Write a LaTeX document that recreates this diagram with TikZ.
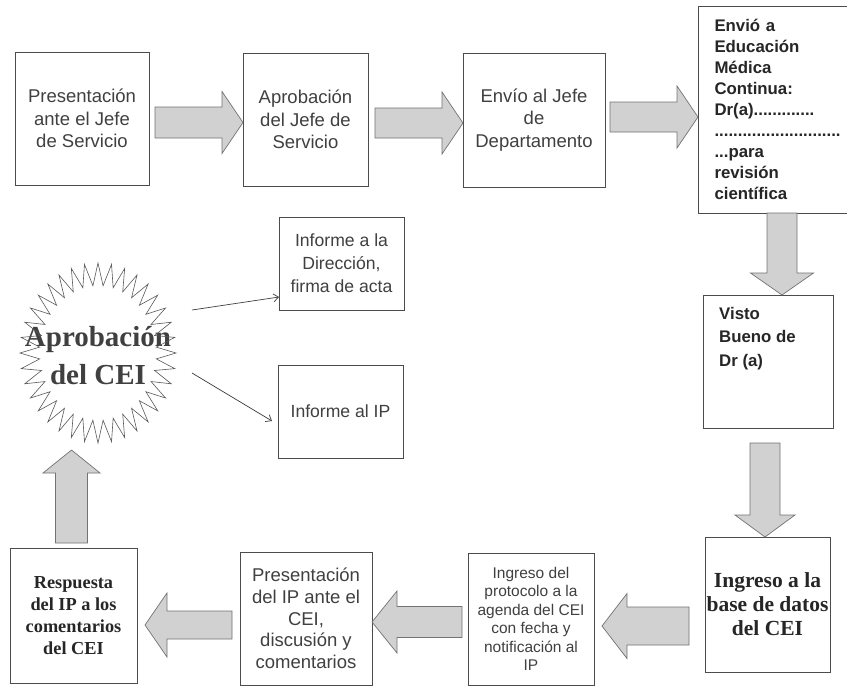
\documentclass[tikz,border=0pt]{standalone}
\usepackage{fontspec}
\setmainfont{Liberation Serif}
\setsansfont{Liberation Sans}
\usetikzlibrary{calc,arrows.meta}

\newcommand{\fatarrow}[5]{%
  \draw[fat] let \p1=(#1), \p2=(#2), \p3=($(\p2)!#5!(\p1)$) in
    ($(\p1)!#3!90:(\p2)$) -- ($(\p3)!#3!90:(\p2)$) -- ($(\p3)!#4!90:(\p2)$) -- (\p2)
    -- ($(\p3)!#4!-90:(\p2)$) -- ($(\p3)!#3!-90:(\p2)$) -- ($(\p1)!#3!-90:(\p2)$) -- cycle;}

\begin{document}
\begin{tikzpicture}[
    x=1pt, y=-1pt,
    box/.style={draw=black!70, line width=0.8pt, inner sep=0pt, outer sep=0pt, align=center, text=black!75},
    sans/.style={font=\sffamily\fontsize{18.5}{22.5}\selectfont},
    sanssmall/.style={font=\sffamily\fontsize{15.5}{18.5}\selectfont},
    sansinfo/.style={font=\sffamily\fontsize{17.6}{23}\selectfont},
    sansbold/.style={font=\sffamily\bfseries\fontsize{16.8}{21}\selectfont, text=black!85},
    serifbold/.style={font=\rmfamily\bfseries\fontsize{21.5}{24}\selectfont, text=black!85},
    serifmid/.style={font=\rmfamily\bfseries\fontsize{18.3}{22}\selectfont, text=black!85},
    fat/.style={draw=black!55, fill=black!18, line width=0.7pt, line join=miter},
    thinarrow/.style={draw=black!75, line width=0.7pt, -{Straight Barb[length=5pt,width=8pt]}},
    burst/.style={draw=black!65, line width=0.6pt, line join=miter}
]
\useasboundingbox (0,0) rectangle (847,686);
\fill[white] (0,0) rectangle (847,686);

\node[box, sans, minimum width=134pt, minimum height=133pt] (pres) at (82,118.5) {Presentación\\ante el Jefe\\de Servicio};
\node[box, sans, minimum width=125pt, minimum height=133pt] (aprob) at (305.5,119.5) {Aprobación\\del Jefe de\\Servicio};
\node[box, sans, minimum width=142pt, minimum height=134pt] (envio) at (534,120) {Envío al Jefe\\de\\Departamento};
\node[box, sansbold, align=left, text width=118pt, minimum width=151pt, minimum height=207pt] (emc) at (773.5,109.5)
    {Envió a\\Educación\\Médica\\Continua:\\Dr(a).............\\...........................\\...para\\revisión\\científica};
\node[box, minimum width=130pt, minimum height=133pt] (visto) at (768,361.5) {};
\node[sansbold, font=\sffamily\bfseries\fontsize{16.8}{23.5}\selectfont, align=left, inner sep=0pt, anchor=north west]
    (vistotxt) at ([xshift=16pt, yshift=-12pt]visto.north west) {Visto\\Bueno de\\Dr (a)};
\node[box, serifbold, minimum width=125pt, minimum height=135pt] (base) at (767.5,604.5) {Ingreso a la\\base de datos\\del CEI};
\node[box, sanssmall, minimum width=126pt, minimum height=132pt] (agenda) at (531,619) {Ingreso del\\protocolo a la\\agenda del CEI\\con fecha y\\notificación al\\IP};
\node[box, sans, font=\sffamily\fontsize{18.5}{21.7}\selectfont, minimum width=132pt, minimum height=133pt] (discu) at (306,618.5) {Presentación\\del IP ante el\\CEI,\\discusión y\\comentarios};
\node[box, serifmid, minimum width=127pt, minimum height=135pt] (resp) at (73.5,615.5) {Respuesta\\del IP a los\\comentarios\\del CEI};
\node[box, sansinfo, minimum width=125pt, minimum height=93pt] (idir) at (341.5,263.5) {Informe a la\\Dirección,\\firma de acta};
\node[box, sansinfo, minimum width=125pt, minimum height=93pt] (iip) at (340.5,411.5) {Informe al IP};

\node[align=center, inner sep=0pt, text=black!75, font=\rmfamily\bfseries\fontsize{29}{38}\selectfont] (cei) at (98,356) {Aprobación\\del CEI};
\draw[burst] ([yshift=3pt]cei.center) ++(0:78pt and 90pt)
    \foreach \k [evaluate=\k as \rr using {1-0.25*mod(\k,2)}] in {1,...,71} {
      -- ([shift={({360/72*\k}:{\rr*78pt} and {\rr*90pt})}, yshift=3pt]cei.center) } -- cycle;

\coordinate (ceiup) at ([xshift=94pt, yshift=46pt]cei.center);
\coordinate (ceidown) at ([xshift=94pt, yshift=-17pt]cei.center);
\coordinate (ceibot) at ([xshift=-26.5pt, yshift=-94pt]cei.center);

\fatarrow{[xshift=6pt, yshift=-4pt]pres.east}{[yshift=-3pt]aprob.west}{15.5pt}{31pt}{21pt}
\fatarrow{[xshift=7pt, yshift=-3.5pt]aprob.east}{[yshift=-3pt]envio.west}{15pt}{31pt}{21pt}
\fatarrow{[xshift=5pt, yshift=3pt]envio.east}{[yshift=-7.5pt]emc.west}{15pt}{31pt}{21pt}
\fatarrow{[xshift=8.5pt]emc.south}{[xshift=14pt]visto.north}{15pt}{31.5pt}{22pt}
\fatarrow{[xshift=-3pt, yshift=-15pt]visto.south}{[xshift=-2.5pt]base.north}{15pt}{30pt}{22pt}
\fatarrow{[xshift=-16pt, yshift=-21.5pt]base.west}{[xshift=8pt, yshift=-7pt]agenda.east}{19pt}{32.5pt}{25pt}
\fatarrow{[xshift=-6pt, yshift=-3pt]agenda.west}{[yshift=-3.5pt]discu.east}{15.5pt}{31pt}{25pt}
\fatarrow{[xshift=-8pt, yshift=-6.5pt]discu.west}{[xshift=8pt, yshift=-9.5pt]resp.east}{14pt}{32pt}{22pt}
\fatarrow{[xshift=-2pt, yshift=5pt]resp.north}{ceibot}{16pt}{28.5pt}{23pt}

\draw[thinarrow] (ceiup) -- ([yshift=-33.5pt]idir.west);
\draw[thinarrow] (ceidown) -- ([xshift=-6pt, yshift=-9.5pt]iip.west);
\end{tikzpicture}
\end{document}
